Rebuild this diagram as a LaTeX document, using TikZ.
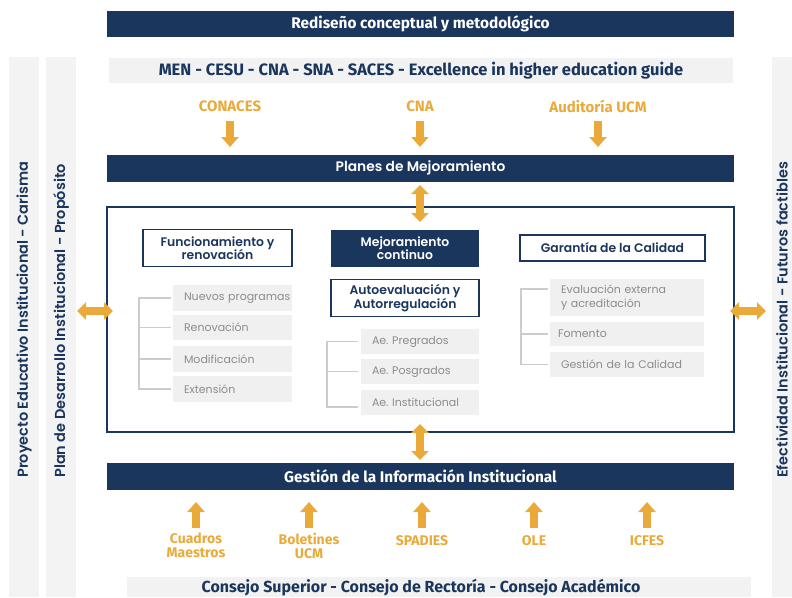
\documentclass[tikz,border=0pt]{standalone}
\usepackage{fontspec}
\setmainfont{Poppins}
\newfontfamily\popsb{Poppins SemiBold}
\newfontfamily\cond{Fira Sans}
\usetikzlibrary{arrows.meta,calc}
\definecolor{navy}{HTML}{1B365D}
\definecolor{gold}{HTML}{EAAA3A}
\definecolor{barfill}{HTML}{F2F2F2}
\definecolor{sidefill}{HTML}{F3F3F3}
\definecolor{itemfill}{HTML}{F0F0F0}
\definecolor{itemtext}{HTML}{8C8C8C}
\definecolor{brackcol}{HTML}{CCCCCC}
\frenchspacing
\begin{document}
\begin{tikzpicture}[x=1pt,y=-1pt,
  darkbar/.style={fill=navy,text=white,inner sep=0pt,minimum width=627pt,minimum height=27pt,font=\cond\bfseries\fontsize{15.4}{17}\selectfont},
  graybar/.style={fill=barfill,text=navy,inner sep=0pt,minimum height=25pt,font=\cond\bfseries\fontsize{16.5}{18}\selectfont},
  sidebar/.style={fill=sidefill,draw=none},
  sidetext/.style={rotate=90,anchor=west,text=navy,inner sep=0pt,font=\popsb\fontsize{14.5}{16}\selectfont},
  head/.style={draw=navy,line width=1.4pt,fill=white,text=navy,inner sep=0pt,align=center,font=\popsb\fontsize{12.4}{13.5}\selectfont},
  darkhead/.style={fill=navy,text=white,inner sep=0pt,align=center,font=\popsb\fontsize{12.4}{13.5}\selectfont},
  item/.style={fill=itemfill,text=itemtext,inner xsep=11pt,inner ysep=0pt,align=left,text width=#1,font=\fontsize{11}{13.5}\selectfont},
  src/.style={text=gold,inner sep=0pt,align=center,font=\cond\bfseries\fontsize{15}{14}\selectfont},
  blockarrow/.style={draw=gold,line width=8pt,-{Triangle[width=17pt,length=10pt]}},
  dblarrow/.style={draw=gold,line width=8pt,{Triangle[width=17pt,length=9pt]}-{Triangle[width=17pt,length=9pt]}},
  bracket/.style={draw=brackcol,line width=1.6pt}
]
\useasboundingbox (0,0) rectangle (792,597);

% side bands
\fill[sidebar] (9,57) rectangle (39,597);
\fill[sidebar] (46,57) rectangle (76,597);
\fill[sidebar] (772,57) rectangle (792,597);
\node[sidetext] (pei) at (24,478) {Proyecto Educativo Institucional - Carisma};
\node[sidetext] (pdi) at (61,478) {Plan de Desarrollo Institucional - Propósito};
\node[sidetext] (efi) at (782,478) {Efectividad Institucional - Futuros factibles};

% top bars
\node[darkbar,minimum height=26pt] (rediseno) at (420.5,24) {Rediseño conceptual y metodológico};
\node[graybar,minimum width=624pt] (men) at (421,70.5) {MEN - CESU - CNA - SNA - SACES - Excellence in higher education guide};

% external sources feeding the improvement plans
\node[src] (conaces) at (230,106) {CONACES};
\node[src] (cna) at (420,106) {CNA};
\node[src] (audit) at (598,106) {Auditoría UCM};
\node[darkbar,font=\popsb\fontsize{13.8}{15}\selectfont] (planes) at (420.5,168) {Planes de Mejoramiento};
\coordinate (conacesA) at (230,121);
\coordinate (cnaA) at (420,121);
\coordinate (auditA) at (598,121);
\coordinate (conacesB) at (230,147);
\coordinate (cnaB) at (420,147);
\coordinate (auditB) at (598,147);
\draw[blockarrow] (conacesA) -- (conacesB);
\draw[blockarrow] (cnaA) -- (cnaB);
\draw[blockarrow] (auditA) -- (auditB);

% central frame
\draw[navy,line width=1.2pt] (107,207) rectangle (734,432);

% column headers
\node[head,minimum width=149pt,minimum height=37pt] (func) at (217.5,248) {Funcionamiento y\\renovación};
\node[darkhead,minimum width=148pt,minimum height=37pt] (mejora) at (405,248) {Mejoramiento\\continuo};
\node[head,minimum width=185pt,minimum height=26pt] (garantia) at (612.5,248) {Garantía de la Calidad};
\node[head,minimum width=148pt,minimum height=37pt] (autoeval) at (405,298) {Autoevaluación y\\Autorregulación};

% left column items
\node[item=97pt,minimum height=26pt] (f1) at (232.5,298) {\mbox{Nuevos programas}};
\node[item=97pt,minimum height=25pt] (f2) at (232.5,327.5) {Renovación};
\node[item=97pt,minimum height=26pt] (f3) at (232.5,359) {Modificación};
\node[item=97pt,minimum height=26pt] (f4) at (232.5,389) {Extensión};

% middle column items
\node[item=96pt,minimum height=25pt] (a1) at (420,341.5) {Ae. Pregrados};
\node[item=96pt,minimum height=25pt] (a2) at (420,371.5) {Ae. Posgrados};
\node[item=96pt,minimum height=25pt] (a3) at (420,402.5) {\mbox{Ae. Institucional}};

% right column items
\node[item=132pt,minimum height=37pt,font=\fontsize{11}{14}\selectfont] (g1) at (627,297.5) {Evaluación externa\\y acreditación};
\node[item=138pt,inner xsep=8pt,minimum height=24pt] (g2) at (627,334) {Fomento};
\node[item=132pt,minimum height=25pt] (g3) at (627,364.5) {\mbox{Gestión de la Calidad}};

% tree brackets
\draw[bracket] ([xshift=-2pt]f1.west) -- ++(-32,0) |- ([xshift=-2pt]f4.west);
\draw[bracket] ([xshift=-2pt]f2.west) -- ++(-32,0);
\draw[bracket] ([xshift=-2pt]f3.west) -- ++(-32,0);
\draw[bracket] ([xshift=-3pt]a1.west) -- ++(-31,0) |- ([xshift=-3pt,yshift=-4.5pt]a3.west);
\draw[bracket] ([xshift=-3pt]a2.west) -- ++(-31,0);
\draw[bracket] ([xshift=-2pt,yshift=8.5pt]g1.west) -- ++(-27,0) |- ([xshift=-2pt]g3.west);
\draw[bracket] ([xshift=-2pt]g2.west) -- ++(-27,0);

% two-way links
\coordinate (pl1) at (420,185);
\coordinate (pl2) at (420,222);
\draw[dblarrow] (pl1) -- (pl2);
\coordinate (lf1) at (77,311);
\coordinate (lf2) at (113,311);
\draw[dblarrow] (lf1) -- (lf2);
\coordinate (rt1) at (730,311);
\coordinate (rt2) at (766,311);
\draw[dblarrow] (rt1) -- (rt2);
\coordinate (gi1) at (420,424);
\coordinate (gi2) at (420,460);
\draw[dblarrow] (gi1) -- (gi2);

% institutional information management
\node[darkbar] (gestion) at (420.5,476.5) {Gestión de la Información Institucional};

% information sources
\node[src,anchor=north,font=\cond\bfseries\fontsize{14}{14}\selectfont] (cuadros) at (196,533) {Cuadros\\Maestros};
\node[src,anchor=north,font=\cond\bfseries\fontsize{14}{14}\selectfont] (boletines) at (309,533) {Boletines\\UCM};
\node[src,anchor=north,font=\cond\bfseries\fontsize{14}{14}\selectfont] (spadies) at (422,535) {SPADIES};
\node[src,anchor=north,font=\cond\bfseries\fontsize{14}{14}\selectfont] (ole) at (534,535) {OLE};
\node[src,anchor=north,font=\cond\bfseries\fontsize{14}{14}\selectfont] (icfes) at (647,535) {ICFES};
\foreach \n/\x in {cuadros/196,boletines/309,spadies/422,ole/534,icfes/647}{
  \coordinate (\n A) at (\x,528);
  \coordinate (\n B) at (\x,502);
  \draw[blockarrow] (\n A) -- (\n B);
}

% governing bodies
\fill[barfill] (127,577) rectangle (751,597);
\node[text=navy,inner sep=0pt,font=\cond\bfseries\fontsize{16}{17}\selectfont] (consejo) at (421,587.5) {Consejo Superior - Consejo de Rectoría - Consejo Académico};
\end{tikzpicture}
\end{document}
